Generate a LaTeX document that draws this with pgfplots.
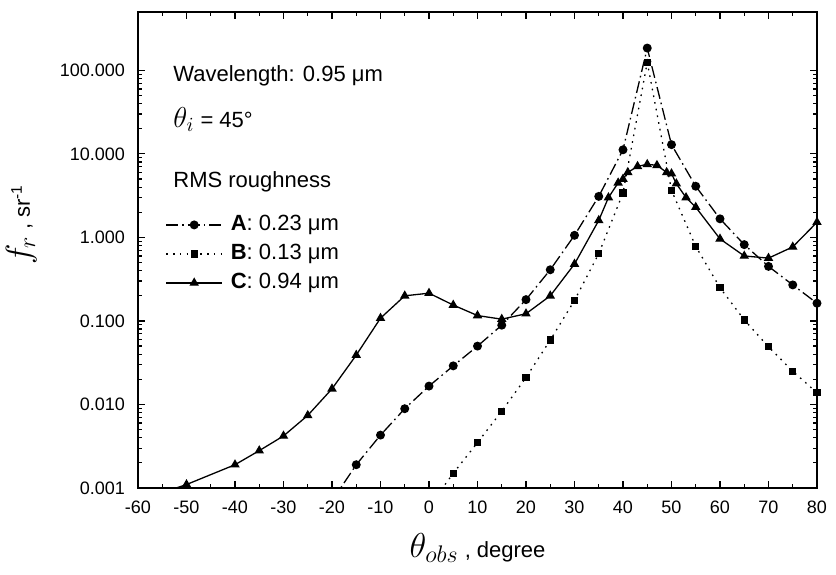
\documentclass[border=0pt]{standalone}
\usepackage{pgfplots}
\pgfplotsset{compat=1.18}
\usepackage{fontspec}
\setmainfont{Liberation Sans}

% Series A: RMS roughness 0.23 um
\pgfplotstableread{
x y
-20 0.0007
-15 0.0019
-10 0.0043
-5 0.0089
0 0.0166
5 0.029
10 0.050
15 0.089
20 0.18
25 0.41
30 1.06
35 3.1
40 11.2
45 185
50 12.9
55 4.1
60 1.67
65 0.82
70 0.45
75 0.27
80 0.163
}\seriesA

% Series B: RMS roughness 0.13 um
\pgfplotstableread{
x y
0 0.0006
5 0.0015
10 0.0035
15 0.0083
20 0.021
25 0.059
30 0.176
35 0.64
40 3.4
45 125
50 3.66
55 0.78
60 0.25
65 0.103
70 0.049
75 0.025
80 0.0138
}\seriesB

% Series C: RMS roughness 0.94 um
\pgfplotstableread{
x y
-55 0.00088
-50 0.0011
-40 0.0019
-35 0.0028
-30 0.0042
-25 0.0074
-20 0.0154
-15 0.039
-10 0.108
-5 0.20
0 0.215
5 0.155
10 0.116
15 0.105
20 0.122
25 0.20
30 0.48
35 1.6
37 3.0
39 4.5
40 5.0
41 6.0
43 7.1
45 7.5
47 7.3
49 6.0
50 5.8
51 4.4
53 3.0
55 2.3
60 0.96
65 0.60
70 0.565
75 0.77
80 1.52
}\seriesC

\begin{document}
\begin{tikzpicture}
\begin{axis}[
  scale only axis, width=339.5pt, height=238pt,
  xmin=-60, xmax=80, ymode=log, ymin=0.001, ymax=500,
  xtick={-60,-50,...,80}, minor x tick num=1,
  ytick={0.001,0.01,0.1,1,10,100},
  yticklabels={0.001,0.010,0.100,1.000,10.000,100.000},
  tick align=inside, tick pos=both,
  major tick length=3.5pt, minor tick length=1.8pt,
  axis line style={line width=0.8pt},
  every tick/.style={black, line width=0.6pt},
  tick label style={font=\fontsize{9}{10}\selectfont},
  /pgf/number format/assume math mode=true,
  yticklabel style={xshift=-3pt},
  xticklabel style={yshift=-3pt},
  xlabel={\fontsize{18}{20}\selectfont$\theta_{\scriptstyle obs}$\fontsize{11}{13}\selectfont\ , degree},
  xlabel style={at={(axis description cs:0.5,-0.126)}, anchor=center},
  ylabel={\fontsize{18}{20}\selectfont$f_{r}$\fontsize{11}{13}\selectfont\ , sr\textsuperscript{-1}},
  ylabel style={at={(axis description cs:-0.172,0.553)}, anchor=center},
  legend style={at={(axis description cs:0.040,0.584)}, anchor=north west,
    draw=none, fill=none, inner sep=0pt, row sep=0pt, column sep=2pt,
    font=\fontsize{11}{13}\selectfont,
    nodes={inner sep=2pt, text height=8pt, text depth=2.5pt}},
  legend cell align=left,
  legend image code/.code={
    \draw[mark repeat=2, mark phase=2] plot coordinates {(0pt,0pt) (14pt,0pt) (28pt,0pt)};},
]
\addplot[black, line width=0.65pt, dash pattern=on 6pt off 2pt on 0.8pt off 2pt,
  mark=*, mark size=1.9pt, mark options={solid}] table {\seriesA};
\addlegendentry{\textbf{A}: 0.23 μm}
\addplot[black, line width=0.65pt, dash pattern=on 0.8pt off 2.6pt,
  mark=square*, mark size=1.5pt, mark options={solid}] table {\seriesB};
\addlegendentry{\textbf{B}: 0.13 μm}
\addplot[black, line width=0.65pt,
  mark=triangle*, mark size=2.1pt] table {\seriesC};
\addlegendentry{\textbf{C}: 0.94 μm}

\node[anchor=west, inner sep=0pt, font=\fontsize{11}{13}\selectfont] at (axis description cs:0.0515,0.865) {Wavelength: 0.95 μm};
\node[anchor=west, inner sep=0pt, font=\fontsize{11}{13}\selectfont] at (axis description cs:0.0515,0.774) {{\fontsize{14}{16}\selectfont$\theta_{i}$} = 45°};
\node[anchor=west, inner sep=0pt, font=\fontsize{11}{13}\selectfont] at (axis description cs:0.0515,0.643) {RMS roughness};

\coordinate (bl) at (rel axis cs:0,0);
\coordinate (tr) at (rel axis cs:1,1);
\end{axis}
\pgfresetboundingbox
\path ([shift={(-69pt,-43.5pt)}]bl) rectangle ([shift={(9.5pt,6pt)}]tr);
\end{tikzpicture}
\end{document}
